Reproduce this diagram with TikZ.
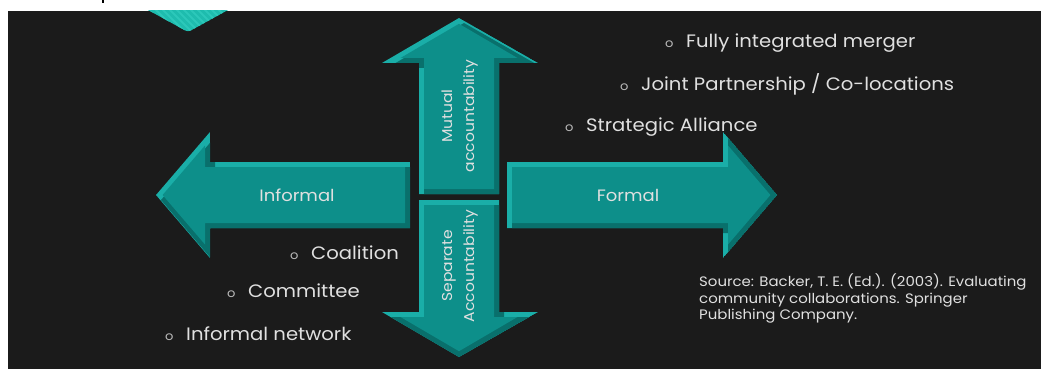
\documentclass[tikz,border=0pt]{standalone}
\usepackage{fontspec}
\setmainfont{Poppins}[FakeStretch=1.09]

\definecolor{bg}{RGB}{27,27,27}
\definecolor{tealmain}{RGB}{13,143,138}
\definecolor{tealhi}{RGB}{26,174,168}
\definecolor{tealsh}{RGB}{9,112,108}
\definecolor{deco}{RGB}{30,188,174}
\definecolor{decostripe}{RGB}{44,200,186}
\definecolor{txt}{RGB}{224,224,224}
\definecolor{bul}{RGB}{186,186,186}

% bevelled block arrow: #1 outer outline, #2 inner face
\newcommand{\bevelarrow}[2]{%
  \begin{scope}
    \clip #1;
    \fill[tealhi] #1;
    \fill[tealsh, shift={(5,5)}] #1;
  \end{scope}
  \fill[tealmain] #2;
}
\newcommand{\bul}{\makebox[21pt][l]{\color{bul}\fontsize{12}{12}\selectfont o}}

\tikzset{
  item/.style={anchor=base west, text=txt, inner sep=0pt,
    font=\fontsize{18}{21}\selectfont},
  armlabel/.style={text=txt, inner sep=0pt,
    font=\fontsize{16.5}{20}\selectfont},
  vlabel/.style={text=txt, inner sep=0pt, rotate=90, align=center,
    font=\fontsize{14.3}{22}\selectfont},
  source/.style={anchor=base west, text=txt, inner sep=0pt, align=left,
    font=\fontsize{13.7}{16.3}\selectfont}
}

\begin{document}
\begin{tikzpicture}[x=1pt,y=-1pt]
\useasboundingbox (0,0) rectangle (1041,369);
\fill[white] (0,0) rectangle (1041,369);
\fill[bg] (8,11) rectangle (1041,369);

% corner ornament with faint stripes
\begin{scope}
  \clip (8,11) rectangle (1041,369);
  \fill[deco, rounded corners=3pt] (139,5) -- (188,32) -- (237,5) -- cycle;
  \clip[rounded corners=3pt] (139,5) -- (188,32) -- (237,5) -- cycle;
  \foreach \s in {130,137,...,240}
    \draw[decostripe, line width=2pt] (\s,5) -- (\s+30,35);
\end{scope}
% stray mark at the top edge
\fill[black] (102.2,0) rectangle (104,3);

% informal (left)
\bevelarrow{(156,195) -- (210,132) -- (210,162) -- (410,162) -- (410,228) -- (210,228) -- (210,258) -- cycle}
           {(162.6,195) -- (205,145.5) -- (205,167) -- (405,167) -- (405,223) -- (205,223) -- (205,244.5) -- cycle}
% formal (right)
\bevelarrow{(507,162) -- (723,162) -- (723,132) -- (777,195) -- (723,258) -- (723,228) -- (507,228) -- cycle}
           {(512,167) -- (728,167) -- (728,145.5) -- (770.4,195) -- (728,244.5) -- (728,223) -- (512,223) -- cycle}
% mutual accountability (up)
\bevelarrow{(459,18) -- (538,63) -- (499,63) -- (499,194) -- (419,194) -- (419,63) -- (382,63) -- cycle}
           {(459,23.8) -- (517.5,58) -- (494,58) -- (494,189) -- (424,189) -- (424,58) -- (400.5,58) -- cycle}
% separate accountability (down)
\bevelarrow{(419,200) -- (499,200) -- (499,312) -- (538,312) -- (459,357) -- (382,312) -- (419,312) -- cycle}
           {(424,205) -- (494,205) -- (494,317) -- (517.5,317) -- (459,351.2) -- (400.5,317) -- (424,317) -- cycle}

% arrow labels
\node[armlabel] (informal) at (297,195) {Informal};
\node[armlabel] (formal) at (628,195) {Formal};
\node[vlabel] (mutual) at (460,116) {Mutual\\accountability};
\node[vlabel] (separate) at (460,266) {Separate\\Accountability};

% formal side
\node[item] (merger) at (665,48) {\bul Fully integrated merger};
\node[item] (joint) at (620,90.5) {\bul Joint Partnership / Co-locations};
\node[item] (alliance) at (565,131) {\bul Strategic Alliance};

% informal side
\node[item] (coalition) at (290,259) {\bul Coalition};
\node[item] (committee) at (227,297.5) {\bul Committee};
\node[item] (network) at (165,340) {\bul Informal network};

% reference
\node[source] (src) at (699,319.3) {Source: Backer, T. E. (Ed.). (2003). Evaluating\\community collaborations. Springer\\Publishing Company.};
\end{tikzpicture}
\end{document}
